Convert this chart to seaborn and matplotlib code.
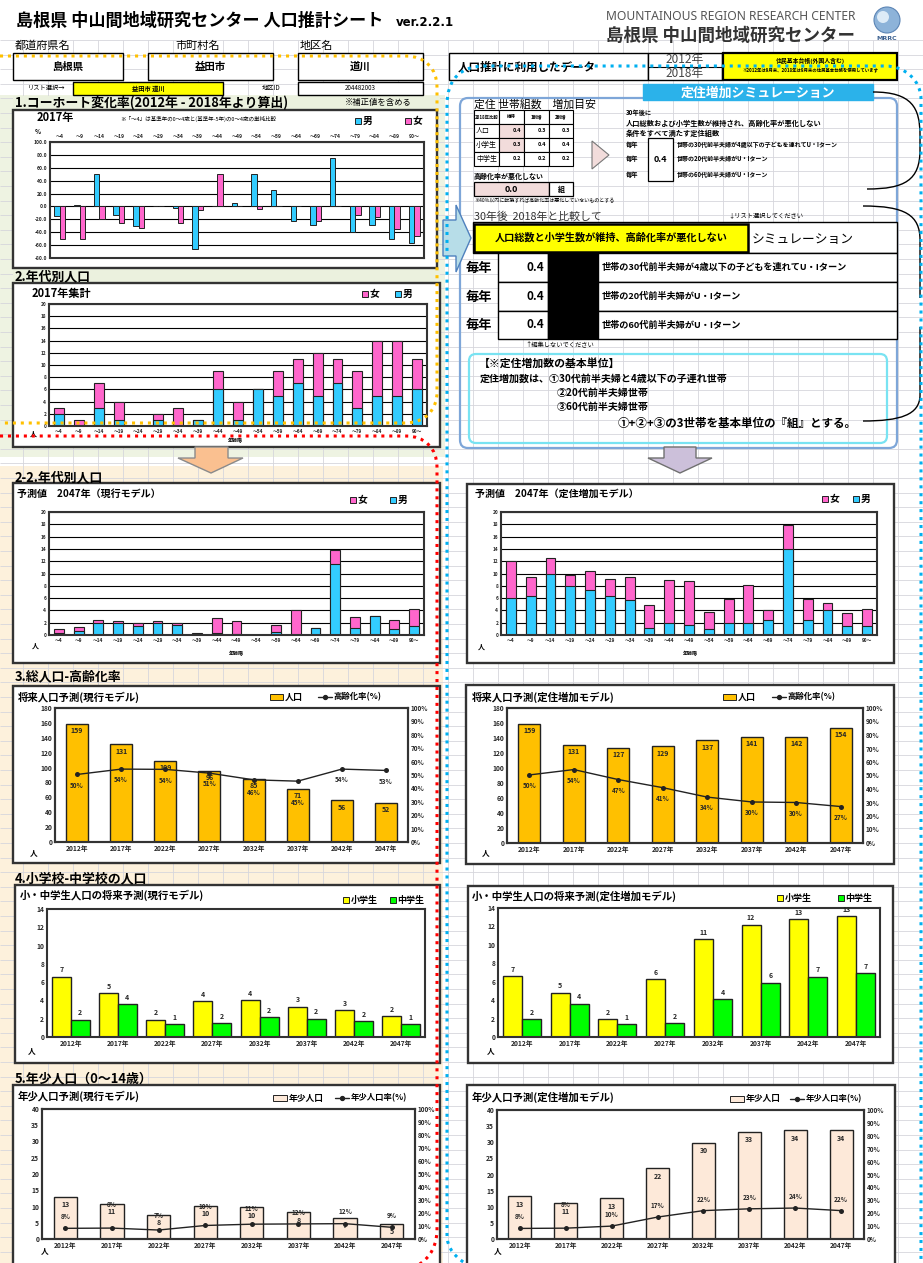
import numpy as np
import pandas as pd
import matplotlib
matplotlib.use('Agg')
import matplotlib.pyplot as plt
import seaborn as sns
from matplotlib.patches import Rectangle, FancyBboxPatch, Polygon, PathPatch, Circle
from matplotlib.path import Path

sns.set_style('white')
plt.rcParams['font.family'] = ['Noto Sans CJK JP', 'DejaVu Sans']
plt.rcParams['axes.unicode_minus'] = False

# ---------------- data ----------------
AGES = ['～4', '～9', '～14', '～19', '～24', '～29', '～34', '～39', '～44', '～49',
        '～54', '～59', '～64', '～69', '～74', '～79', '～84', '～89', '90～']
YEARS = ['2012年', '2017年', '2022年', '2027年', '2032年', '2037年', '2042年', '2047年']

# 1. cohort change rate (%)
cohort_male = [-15, 2, 50, -14, -31, 0, -2, -66, 0, 5, 50, 25, -22, -29, 75, -40, -29, -50, -56]
cohort_female = [-50, -50, -20, -25, -34, 0, -25, -5, 50, 0, -4, 0, 0, -22, 0, -13, -17, -35, -46]

# 2. population by age 2017
pop2017_male = [2, 0, 3, 1, 0, 1, 0, 1, 6, 1, 6, 5, 7, 5, 7, 3, 5, 5, 6]
pop2017_female = [1, 1, 4, 3, 0, 1, 3, 0, 3, 3, 0, 4, 4, 7, 4, 6, 9, 9, 5]

# 2-2. projected 2047 (current model / settlement model)
cur2047_male = [0.4, 0.7, 2.0, 1.9, 1.5, 1.9, 1.7, 0.0, 0.4, 0.2, 0, 0.5, 0, 1.2, 11.6, 1.1, 3.1, 1.0, 1.4]
cur2047_female = [0.5, 0.6, 0.5, 0.4, 0.5, 0.4, 0.3, 0.3, 2.3, 2.1, 0, 1.1, 4.1, 0, 2.3, 1.8, 0, 1.4, 2.8]
set2047_male = [6.0, 6.4, 9.9, 8.0, 7.3, 6.3, 5.7, 1.2, 1.9, 1.7, 1.0, 1.9, 1.9, 2.5, 14.0, 2.5, 4.1, 1.4, 1.4]
set2047_female = [6.0, 3.0, 2.6, 1.8, 3.1, 2.8, 3.7, 3.7, 7.1, 7.1, 2.8, 3.9, 6.2, 1.6, 3.9, 3.3, 1.1, 2.2, 2.9]

# 3. total population & aging rate
pop_cur = [159, 131, 109, 96, 85, 71, 56, 52]
aging_cur = [50.4, 54.4, 54.2, 51.4, 46.4, 45.4, 54.4, 53.4]
pop_set = [159, 131, 127, 129, 137, 141, 142, 154]
aging_set = [50.4, 54.4, 47.0, 41.0, 34.0, 30.4, 30.0, 27.0]

# 4. elementary / junior high students
elem_cur = [6.6, 4.8, 1.9, 3.9, 4.0, 3.3, 2.9, 2.3]
jhs_cur = [1.9, 3.6, 1.4, 1.5, 2.2, 2.0, 1.7, 1.4]
elem_set = [6.6, 4.8, 1.9, 6.3, 10.6, 12.2, 12.8, 13.1]
jhs_set = [1.9, 3.6, 1.4, 1.5, 4.1, 5.9, 6.55, 6.9]

# 5. young population (0-14) and rate
young_cur = [13, 10.9, 7.5, 10.2, 9.8, 8.2, 6.6, 4.7]
young_rate_cur = [8.2, 8.4, 6.9, 10.4, 11.4, 11.6, 11.8, 9.0]
young_set = [13.2, 11.1, 12.7, 22, 29.9, 33.3, 33.7, 33.8]
young_rate_set = [8.2, 8.4, 10.0, 17.0, 22.0, 23.4, 24.0, 22.0]

BLUE = '#33CCFF'
PINK = '#FF66CC'
GOLD = '#FFC000'
YEL = '#FFFF00'
GRN = '#00FF00'
PEACH = '#FDE9D9'
EDGE = '#222222'

# ---------------- figure ----------------
W, H = 923, 1263
fig = plt.figure(figsize=(W / 100, H / 100), dpi=100)
fig.patch.set_facecolor('white')


def px_axes(x, y, w, h, z=2):
    ax = fig.add_axes([x / W, 1 - (y + h) / H, w / W, h / H])
    ax.set_zorder(z)
    return ax


bg = px_axes(0, 0, W, H, z=0)
bg.set_xlim(0, W); bg.set_ylim(H, 0); bg.axis('off')
ov = px_axes(0, 0, W, H, z=50)
ov.set_xlim(0, W); ov.set_ylim(H, 0); ov.axis('off')


def T(x, y, s, size=6, weight='bold', ha='left', va='center', color='black', ax=None, style='normal', **kw):
    (ax or bg).text(x, y, s, fontsize=size, fontweight=weight, ha=ha, va=va, color=color,
                    style=style, zorder=8, **kw)


def box(x0, y0, x1, y1, fc='white', ec='black', lw=1.0, z=4):
    bg.add_patch(Rectangle((x0, y0), x1 - x0, y1 - y0, facecolor=fc, edgecolor=ec, lw=lw, zorder=z))


# background spreadsheet
bg.add_patch(Rectangle((0, 0), W, H, facecolor='white', edgecolor='none', zorder=0))
bg.add_patch(Rectangle((0, 95), 445, 362, facecolor='#EEF3E2', edgecolor='none', zorder=0.5))
bg.add_patch(Rectangle((0, 466), 443, 800, facecolor='#FDF1DC', edgecolor='none', zorder=0.5))
bg.vlines(np.arange(-2, W, 25), 40, H, color='#D6D6DC', lw=0.6, zorder=1)
bg.hlines(np.arange(40, H, 14.6), 0, W, color='#D6D6DC', lw=0.6, zorder=1)

# ---------------- header ----------------
T(16, 21, '島根県 中山間地域研究センター 人口推計シート', size=12.3)
T(396, 23, 'ver.2.2.1', size=8.5, family=['DejaVu Sans'])
T(606, 16, 'MOUNTAINOUS REGION RESEARCH CENTER', size=8.7, weight='normal', color='#555555',
  family=['Noto Sans', 'DejaVu Sans'])
T(606, 36, '島根県 中山間地域研究センター', size=12.6, color='#333333')
bg.add_patch(Circle((887, 20), 13, facecolor='#8DB3D9', edgecolor='#5C85B5', lw=0.8, zorder=5))
bg.add_patch(Circle((883, 17), 6, facecolor='#DDEBF7', edgecolor='none', zorder=6))
T(887, 38, 'MRRC', size=4.5, ha='center', color='#3A5F8F', family=['DejaVu Sans'])

T(15, 46, '都道府県名', size=8, weight='normal')
T(175, 46, '市町村名', size=8, weight='normal')
T(300, 46, '地区名', size=8, weight='normal')
box(13, 53, 123, 80)
box(148, 53, 273, 80)
box(298, 53, 423, 80)
T(68, 67, '島根県', size=7.5, ha='center')
T(210, 67, '益田市', size=7.5, ha='center')
T(360, 67, '道川', size=7.5, ha='center')
T(28, 88, 'リスト選択→', size=4.5, weight='normal')
box(73, 82, 223, 95, fc='#FFFF00')
T(148, 88.5, '益田市 道川', size=4.5, ha='center')
T(262, 88, '地区ID', size=4.5, weight='normal')
box(298, 82, 423, 95)
T(360, 88.5, '204482003', size=4.5, ha='center', weight='normal')

# section headers
bg.add_patch(Rectangle((13, 96), 427, 14, facecolor='#EBF1DE', edgecolor='none', zorder=1.5))
T(15, 103, '1.コーホート変化率(2012年 - 2018年より算出)', size=9.3)
T(345, 102, '※補正値を含める', size=6, weight='normal')
bg.add_patch(Rectangle((13, 269), 427, 14, facecolor='#EBF1DE', edgecolor='none', zorder=1.5))
T(15, 276, '2.年代別人口', size=9.3)
T(15, 477, '2-2.年代別人口', size=9.3)
T(15, 676, '3.総人口-高齢化率', size=9.3)
T(15, 878, '4.小学校-中学校の人口', size=9.3)
T(15, 1078, '5.年少人口（0～14歳）', size=9.3)

# right header
box(449, 53, 648, 80)
T(458, 67, '人口推計に利用したデータ', size=8.3)
box(648, 53, 722, 80)
bg.plot([648, 722], [66.5, 66.5], color='black', lw=0.8, zorder=5)
T(685, 60, '2012年', size=8.5, weight='normal', ha='center', color='#444444')
T(685, 73, '2018年', size=8.5, weight='normal', ha='center', color='#444444')
box(723, 53, 897, 80, fc='#FFFF00', lw=1.6)
T(810, 61, '住民基本台帳(外国人含む)', size=4.2, ha='center')
T(810, 70, '※2012年は9月末、2018年は9月末の住民基本台帳を使用しています', size=3.2, ha='center')

# settlement simulation block
bg.add_patch(FancyBboxPatch((460, 98), 437, 350, boxstyle='round,pad=0,rounding_size=8',
                            facecolor='none', edgecolor='#7EA6D8', lw=1.6, zorder=3))
box(643, 84, 873, 100, fc='#2BB2EA', ec='#2BB2EA')
T(758, 92.5, '定住増加シミュレーション', size=9.3, ha='center', color='white')

T(474, 104, '定住 世帯組数　増加目安', size=7.8, weight='normal')
cols = [474, 499, 524, 549, 573]
rows = [110, 124, 138, 152, 166]
tab_head = ['2018年比較', '維持', '1割増', '2割増']
tab_rows = [('人口', ['0.4', '0.3', '0.3']), ('小学生', ['0.3', '0.4', '0.4']),
            ('中学生', ['0.2', '0.2', '0.2'])]
for j in range(4):
    box(cols[j], rows[0], cols[j + 1], rows[1], lw=0.8)
    T((cols[j] + cols[j + 1]) / 2, 117, tab_head[j], size=3.2, ha='center')
for i, (lab, vals) in enumerate(tab_rows):
    y0, y1 = rows[i + 1], rows[i + 2]
    box(cols[0], y0, cols[1], y1, lw=0.8)
    T(cols[0] + 2, (y0 + y1) / 2, lab, size=5, weight='normal')
    for j, v in enumerate(vals):
        fc = '#F2DCDB' if (j == 0 and i < 2) else 'white'
        box(cols[j + 1], y0, cols[j + 2], y1, fc=fc, lw=0.8)
        T(cols[j + 2] - 3, (y0 + y1) / 2, v, size=4, ha='right')
T(474, 176, '高齢化率が悪化しない', size=5)
box(474, 182, 549, 196, fc='#F2DCDB', lw=0.9)
T(511, 189, '0.0', size=6.5, ha='center')
box(549, 182, 573, 196, lw=0.9)
T(561, 189, '組', size=5, ha='center')
T(474, 201, '※40%以内に転換すれば高齢化率は悪化していないものとする', size=3.6, weight='normal')
bg.add_patch(Polygon([(592, 141), (609, 155), (592, 169)], closed=True, facecolor='#F2DCDB',
                     edgecolor='#777777', lw=0.8, zorder=5))
T(626, 112, '30年後に', size=4.5)
T(626, 123, '人口総数および小学生数が維持され、高齢化率が悪化しない', size=5.2)
T(626, 133, '条件をすべて満たす定住組数', size=5.2)
for yy, s in zip([145, 159, 174], ['世帯の30代前半夫婦が4歳以下の子どもを連れてU・Iターン',
                                   '世帯の20代前半夫婦がU・Iターン', '世帯の60代前半夫婦がU・Iターン']):
    T(626, yy, '毎年', size=4.5)
    T(677, yy, s, size=4.3)
box(648, 138, 673, 181, lw=0.9)
T(660.5, 160, '0.4', size=6.5, ha='center')

T(474, 217, '30年後  2018年と比較して', size=7.8, weight='normal', color='#333333')
T(728, 215, '↓リスト選択してください', size=4.5, weight='normal')
box(473, 222, 897, 253, lw=1.0)
box(474, 224, 748, 252, fc='#FFFF00', lw=1.8)
T(611, 238, '人口総数と小学生数が維持、高齢化率が悪化しない', size=7.3, ha='center')
T(752, 239, 'シミュレーション', size=9.2, weight='normal')
row_txt = ['世帯の30代前半夫婦が4歳以下の子どもを連れてU・Iターン',
           '世帯の20代前半夫婦がU・Iターン', '世帯の60代前半夫婦がU・Iターン']
ry = [253, 282, 311, 339]
for i in range(3):
    y0, y1 = ry[i], ry[i + 1]
    ym = (y0 + y1) / 2
    T(466, ym, '毎年', size=9.5)
    box(498, y0, 548, y1, lw=1.0)
    T(544, ym, '0.4', size=8.5, ha='right')
    box(548, y0, 598, y1, fc='black', lw=1.0)
    box(598, y0, 897, y1, lw=1.0)
    T(602, ym, row_txt[i], size=6.6)
T(525, 345, '↑編集しないでください', size=4.5, weight='normal')
bg.add_patch(FancyBboxPatch((469, 354), 418, 89, boxstyle='round,pad=0,rounding_size=7',
                            facecolor='none', edgecolor='#79E3F2', lw=1.6, zorder=3))
T(479, 363, '【※定住増加数の基本単位】', size=7.8)
T(480, 379, '定住増加数は、①30代前半夫婦と4歳以下の子連れ世帯', size=7.2)
T(557, 393, '②20代前半夫婦世帯', size=7.2)
T(557, 407, '③60代前半夫婦世帯', size=7.2)
T(618, 424, '①+②+③の3世帯を基本単位の『組』とする。', size=8.3)


# braces on the right
def curve(verts, codes, ax=bg, **kw):
    ax.add_patch(PathPatch(Path(verts, codes), facecolor='none', zorder=6, **kw))


C4, L2, M = Path.CURVE4, Path.LINETO, Path.MOVETO
curve([(873, 92), (912, 92), (920, 108), (920, 135), (920, 150), (920, 180), (905, 189), (867, 189)],
      [M, C4, C4, C4, L2, C4, C4, C4], edgecolor='black', lw=1.0)
curve([(863, 206), (905, 206), (920, 215), (920, 240), (920, 298)],
      [M, C4, C4, C4, L2], edgecolor='black', lw=1.0)
curve([(920, 327), (920, 395), (920, 415), (900, 421), (863, 421)],
      [M, L2, C4, C4, C4], edgecolor='black', lw=1.0)

# arrows
bg.add_patch(Polygon([(443, 220), (456, 220), (456, 205), (471, 238), (456, 272), (456, 256), (443, 256)],
                     closed=True, facecolor='#B7DDE8', edgecolor='#4F81BD', lw=1.0, zorder=6))
bg.add_patch(Polygon([(195, 447), (228, 447), (228, 458), (243, 458), (211, 473), (178, 458), (195, 458)],
                     closed=True, facecolor='#FAC090', edgecolor='#8A8A8A', lw=1.0, zorder=6))
bg.add_patch(Polygon([(664, 447), (696, 447), (696, 458), (712, 458), (680, 473), (648, 458), (664, 458)],
                     closed=True, facecolor='#CCC0DA', edgecolor='#707070', lw=1.0, zorder=6))


# ---------------- chart helpers ----------------
def frame(x0, y0, x1, y1):
    bg.add_patch(Rectangle((x0, y0), x1 - x0, y1 - y0, facecolor='white', edgecolor='#333333',
                           lw=1.7, zorder=3))


def leg_box(x, y, color, label, size=7, w=6, h=6):
    bg.add_patch(Rectangle((x, y - h / 2), w, h, facecolor=color, edgecolor=EDGE, lw=0.7, zorder=7))
    T(x + w + 1.5, y, label, size=size)


def leg_line(x, y, label, size=6.5):
    bg.plot([x, x + 14], [y, y], color=EDGE, lw=1.0, zorder=7)
    bg.plot([x + 7], [y], 'o', ms=2.8, color=EDGE, zorder=7)
    T(x + 16, y, label, size=size)


def style(ax, fs=4.5):
    for s in ax.spines.values():
        s.set_visible(True)
        s.set_color('#333333')
        s.set_linewidth(1.5)
    ax.tick_params(axis='both', labelsize=fs, length=0, pad=2)
    for lab in ax.get_xticklabels() + ax.get_yticklabels():
        lab.set_fontweight('bold')
    ax.set_xlabel('')
    ax.set_ylabel('')


# ---- chart 1: cohort change rate ----
frame(13, 110, 437, 268)
T(37, 118, '2017年', size=8)
T(120, 119, '※「～4」は基準年の0～4歳と(基準年-5年)の0～4歳の単純比較', size=4, weight='normal')
leg_box(355, 121, BLUE, '男', size=7)
leg_box(405, 121, PINK, '女', size=7)
T(35, 131, '%', size=4.5)
ax1 = px_axes(50, 142, 374, 116)
df1 = pd.DataFrame({'age': AGES * 2, 'sex': ['男'] * 19 + ['女'] * 19,
                    'rate': cohort_male + cohort_female})
sns.barplot(data=df1, x='age', y='rate', hue='sex', hue_order=['男', '女'],
            palette={'男': BLUE, '女': PINK}, saturation=1, width=0.55, edgecolor=EDGE,
            linewidth=0.7, errorbar=None, legend=False, ax=ax1)
ax1.set_ylim(-80, 100)
ax1.set_yticks(range(-80, 101, 20))
ax1.set_yticklabels([f'{v:.1f}' for v in range(-80, 101, 20)])
ax1.yaxis.grid(True, color='black', lw=0.8)
ax1.set_axisbelow(True)
ax1.xaxis.tick_top()
ax1.tick_params(axis='x', labeltop=True, labelbottom=False)
style(ax1, fs=3.6)


# ---- stacked age charts ----
def stacked(rect, male, female):
    ax = px_axes(*rect)
    total = [m + f for m, f in zip(male, female)]
    sns.barplot(x=AGES, y=total, color=PINK, saturation=1, width=0.5, edgecolor=EDGE,
                linewidth=0.8, errorbar=None, ax=ax)
    sns.barplot(x=AGES, y=male, color=BLUE, saturation=1, width=0.5, edgecolor=EDGE,
                linewidth=0.8, errorbar=None, ax=ax)
    ax.set_ylim(0, 20)
    ax.set_yticks(range(0, 21, 2))
    ax.yaxis.grid(True, color='black', lw=0.8)
    ax.set_axisbelow(True)
    style(ax, fs=3.4)
    return ax


frame(13, 283, 440, 447)
T(32, 294, '2017年集計', size=8)
leg_box(362, 294, PINK, '女', size=7)
leg_box(395, 294, BLUE, '男', size=7)
stacked((49, 304, 378, 122), pop2017_male, pop2017_female)
T(30, 434, '人', size=5)
T(235, 441, '年齢階', size=3.6, ha='center')

frame(13, 483, 440, 663)
T(17, 494, '予測値　2047年（現行モデル）', size=7.2)
leg_box(350, 500, PINK, '女', size=7)
leg_box(390, 500, BLUE, '男', size=7)
stacked((49, 512, 375, 123), cur2047_male, cur2047_female)
T(32, 646, '人', size=5)
T(236, 654, '年齢階', size=3.6, ha='center')

frame(467, 484, 894, 663)
T(475, 494, '予測値　2047年（定住増加モデル）', size=7.2)
leg_box(822, 499, PINK, '女', size=7)
leg_box(853, 499, BLUE, '男', size=7)
stacked((501, 512, 376, 123), set2047_male, set2047_female)
T(478, 647, '人', size=5)
T(690, 654, '年齢階', size=3.6, ha='center')


# ---- population & rate charts ----
def bar_line(rect, vals, rates, color, ymax, ystep, lab_off, rate_off):
    ax = px_axes(*rect)
    hpx = rect[3]
    sns.barplot(x=YEARS, y=vals, color=color, saturation=1, width=0.5, edgecolor=EDGE,
                linewidth=1.0, errorbar=None, ax=ax)
    ax.set_ylim(0, ymax)
    ax.set_yticks(np.arange(0, ymax + 0.1, ystep))
    ax.set_yticklabels([f'{v:.0f}' for v in np.arange(0, ymax + 0.1, ystep)])
    for i, v in enumerate(vals):
        ax.text(i, v - lab_off, f'{v:.0f}', ha='center', va='center', fontsize=5, fontweight='bold',
                zorder=10)
    ax2 = ax.twinx()
    ax2.set_zorder(3)
    sns.lineplot(x=np.arange(len(rates)), y=rates, color=EDGE, marker='o', markersize=3.6,
                 markeredgewidth=0, linewidth=1.0, ax=ax2)
    ax2.set_ylim(0, 100)
    ax2.set_yticks(range(0, 101, 10))
    ax2.set_yticklabels([f'{v}%' for v in range(0, 101, 10)])
    for i, (v, r) in enumerate(zip(vals, rates)):
        pop_px = (v - lab_off) / ymax * hpx
        rate_px = (r + rate_off) / 100 * hpx
        if abs(pop_px - rate_px) < 6.5:
            rate_px = pop_px + (7 if rate_off > 0 else -7)
        ax2.text(i, rate_px / hpx * 100, f'{r:.0f}%', ha='center', va='center', fontsize=4.6,
                 fontweight='bold', zorder=10)
    ax.set_xlim(-0.5, len(vals) - 0.5)
    style(ax, fs=4.8)
    style(ax2, fs=4.6)
    return ax


frame(13, 686, 440, 863)
T(18, 697, '将来人口予測(現行モデル)', size=7.5)
leg_box(270, 697, GOLD, '人口', size=6.5, w=13, h=6)
leg_line(318, 697, '高齢化率(%)', size=6)
bar_line((55, 708, 353, 134), pop_cur, aging_cur, GOLD, 180, 20, 9, -8)
T(30, 853, '人', size=5.5)

frame(466, 685, 894, 864)
T(472, 697, '将来人口予測(定住増加モデル)', size=7.5)
leg_box(723, 697, GOLD, '人口', size=6.5, w=13, h=6)
leg_line(772, 697, '高齢化率(%)', size=6)
bar_line((507, 708, 356, 135), pop_set, aging_set, GOLD, 180, 20, 9, -8)
T(482, 853, '人', size=5.5)


# ---- school children ----
def school(rect, elem, jhs):
    ax = px_axes(*rect)
    df = pd.DataFrame({'year': YEARS * 2, 'kind': ['小学生'] * 8 + ['中学生'] * 8,
                       'n': elem + jhs})
    sns.barplot(data=df, x='year', y='n', hue='kind', hue_order=['小学生', '中学生'],
                palette={'小学生': YEL, '中学生': GRN}, saturation=1, width=0.8, edgecolor=EDGE,
                linewidth=1.0, errorbar=None, legend=False, ax=ax)
    ax.set_ylim(0, 14)
    ax.set_yticks(range(0, 15, 2))
    for i in range(8):
        ax.text(i - 0.2, elem[i] + 0.75, f'{elem[i]:.0f}', ha='center', va='center', fontsize=5,
                fontweight='bold')
        ax.text(i + 0.2, jhs[i] + 0.75, f'{jhs[i]:.0f}', ha='center', va='center', fontsize=5,
                fontweight='bold')
    style(ax, fs=4.8)
    return ax


frame(15, 885, 440, 1063)
T(20, 895, '小・中学生人口の将来予測(現行モデル)', size=7.5)
leg_box(343, 900, YEL, '小学生', size=6.5)
leg_box(390, 900, GRN, '中学生', size=6.5)
school((47, 909, 378, 128), elem_cur, jhs_cur)
T(28, 1051, '人', size=5.5)

frame(468, 886, 893, 1063)
T(472, 896, '小・中学生人口の将来予測(定住増加モデル)', size=7.5)
leg_box(777, 898, YEL, '小学生', size=6.5)
leg_box(838, 898, GRN, '中学生', size=6.5)
school((498, 908, 382, 129), elem_set, jhs_set)
T(487, 1051, '人', size=5.5)

# ---- young population ----
frame(13, 1085, 440, 1266)
T(18, 1096, '年少人口予測(現行モデル)', size=7.5)
leg_box(273, 1098, PEACH, '年少人口', size=6.3, w=14, h=6)
leg_line(335, 1098, '年少人口率(%)', size=6)
bar_line((42, 1109, 373, 130), young_cur, young_rate_cur, PEACH, 40, 5, 2.5, 9)
T(41, 1251, '人', size=5.5)

frame(467, 1085, 895, 1266)
T(472, 1097, '年少人口予測(定住増加モデル)', size=7.5)
leg_box(730, 1099, PEACH, '年少人口', size=6.3, w=14, h=6)
leg_line(790, 1099, '年少人口率(%)', size=6)
bar_line((497, 1110, 367, 129), young_set, young_rate_set, PEACH, 40, 5, 2.5, 9)
T(494, 1251, '人', size=5.5)

# ---------------- dotted outlines (overlay) ----------------
dot = (0, (1, 1.6))
curve([(0, 56), (405, 56), (425, 56), (437, 68), (437, 88), (437, 392), (437, 410), (425, 423),
       (405, 423), (0, 423)],
      [M, L2, C4, C4, C4, L2, C4, C4, C4, L2], ax=ov, edgecolor='#FFC000', lw=2.2, linestyle=dot)
curve([(0, 436), (405, 436), (425, 436), (437, 448), (437, 468), (437, 1230), (437, 1250), (425, 1263),
       (415, 1266)],
      [M, L2, C4, C4, C4, L2, C4, C4, C4], ax=ov, edgecolor='#FF0000', lw=2.2, linestyle=dot)
curve([(470, 1266), (455, 1258), (447, 1248), (447, 1235), (447, 105), (447, 80), (460, 66), (485, 66),
       (885, 66), (905, 66), (921, 80), (921, 100), (921, 1266)],
      [M, C4, C4, C4, L2, C4, C4, C4, L2, C4, C4, C4, L2], ax=ov, edgecolor='#00B0F0', lw=2.2,
      linestyle=dot)

fig.savefig('out.png', dpi=100, facecolor='white')
